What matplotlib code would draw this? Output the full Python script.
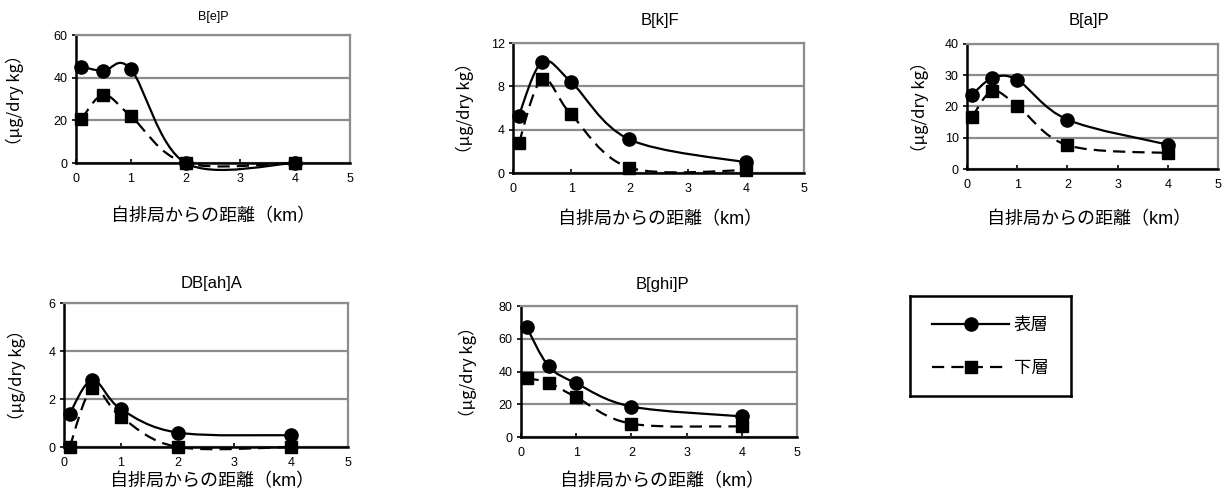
import numpy as np
import matplotlib

matplotlib.use("Agg")
import matplotlib.pyplot as plt
from matplotlib.lines import Line2D
from matplotlib.patches import PathPatch
from matplotlib.path import Path

plt.rcParams["font.family"] = ["Liberation Sans", "Noto Sans CJK JP", "DejaVu Sans"]

# distance from the roadside monitoring station (km)
distance = [0.1, 0.5, 1, 2, 4]

# concentrations, surface layer (表層) and lower layer (下層)
bep_surface = [45.2, 43.1, 44.0, 0.0, 0.0]
bep_lower = [20.6, 31.9, 22.0, 0.0, 0.0]

bkf_surface = [5.3, 10.25, 8.4, 3.1, 0.98]
bkf_lower = [2.75, 8.66, 5.4, 0.5, 0.25]

bap_surface = [23.8, 29.0, 28.5, 15.8, 7.8]
bap_lower = [16.6, 24.9, 20.3, 7.6, 5.1]

dbaha_surface = [1.39, 2.79, 1.58, 0.6, 0.49]
dbaha_lower = [0.0, 2.44, 1.26, 0.0, 0.0]

bghip_surface = [67.2, 43.3, 32.8, 18.6, 12.6]
bghip_lower = [35.8, 33.2, 24.3, 8.1, 6.5]

compounds = ["B[e]P", "B[k]F", "B[a]P", "DB[ah]A", "B[ghi]P"]
surface = [bep_surface, bkf_surface, bap_surface, dbaha_surface, bghip_surface]
lower = [bep_lower, bkf_lower, bap_lower, dbaha_lower, bghip_lower]
y_ticks = [
    [0, 20, 40, 60],
    [0, 4, 8, 12],
    [0, 10, 20, 30, 40],
    [0, 2, 4, 6],
    [0, 20, 40, 60, 80],
]
x_ticks = [0, 1, 2, 3, 4, 5]

W, H = 1226, 490
# plot-area boxes in pixels: left, top, right, bottom
boxes = [
    (76, 35, 350, 163),
    (513, 43, 804, 173),
    (967, 44, 1218, 169),
    (64, 303, 348, 447),
    (521, 306, 797, 437),
]
title_pos = [(213, 17, 9), (660, 21, 12), (1089, 21, 12), (212, 283, 12), (662, 285, 12)]
ylabel_pos = [(15, 100), (465, 108), (920, 107), (17, 375), (468, 372)]
xlabel_pos = [(213, 217), (660, 220), (1089, 220), (212, 482), (662, 482)]

XLABEL = "自排局からの距離（km）"
YLABEL = "（μg/dry kg）"
DASHES = (0, (5.5, 3.2))
LW = 1.6
GRID = "#8c8c8c"


def smooth_path(x, y):
    # cubic Bezier through the points, Catmull-Rom style control points
    pts = np.column_stack([x, y]).astype(float)
    ext = np.vstack([pts[0], pts, pts[-1]])
    verts = [pts[0]]
    codes = [Path.MOVETO]
    for i in range(len(pts) - 1):
        p0, p1, p2, p3 = ext[i], ext[i + 1], ext[i + 2], ext[i + 3]
        verts += [p1 + (p2 - p0) / 6, p2 - (p3 - p1) / 6, p2]
        codes += [Path.CURVE4] * 3
    return Path(verts, codes)


def fx(px):
    return px / W


def fy(py):
    return 1 - py / H


fig = plt.figure(figsize=(W / 100, H / 100), dpi=100)

for k, name in enumerate(compounds):
    l, t, r, b = boxes[k]
    ax = fig.add_axes([fx(l), fy(b), fx(r) - fx(l), fy(t) - fy(b)])
    ax.set_xlim(0, 5)
    ax.set_ylim(0, y_ticks[k][-1])
    ax.set_xticks(x_ticks)
    ax.set_yticks(y_ticks[k])
    ax.yaxis.grid(True, color=GRID, linewidth=1.6)
    ax.set_axisbelow(True)
    for side in ("top", "right"):
        ax.spines[side].set_color(GRID)
        ax.spines[side].set_linewidth(1.6)
    for side in ("left", "bottom"):
        ax.spines[side].set_color("black")
        ax.spines[side].set_linewidth(1.8)
        ax.spines[side].set_zorder(2.5)
    ax.tick_params(axis="x", direction="in", length=3, width=1.2, labelsize=9, pad=7)
    ax.tick_params(axis="y", direction="out", length=3, width=1.2, labelsize=9, pad=3)

    ax.add_patch(PathPatch(smooth_path(distance, surface[k]), facecolor="none",
                           edgecolor="black", linewidth=LW, clip_on=False, zorder=3))
    ax.add_patch(PathPatch(smooth_path(distance, lower[k]), facecolor="none",
                           edgecolor="black", linewidth=LW, linestyle=DASHES,
                           clip_on=False, zorder=3))
    ax.plot(distance, surface[k], linestyle="none", marker="o", markersize=9.5,
            color="black", clip_on=False, zorder=4)
    ax.plot(distance, lower[k], linestyle="none", marker="s", markersize=9,
            color="black", clip_on=False, zorder=5)

    tx, ty, ts = title_pos[k]
    fig.text(fx(tx), fy(ty), name, ha="center", va="center", fontsize=ts)
    yx, yy = ylabel_pos[k]
    fig.text(fx(yx), fy(yy), YLABEL, ha="center", va="center", rotation=90,
             fontsize=12, family=["Noto Sans CJK JP", "DejaVu Sans"])
    xx, xy = xlabel_pos[k]
    fig.text(fx(xx), fy(xy), XLABEL, ha="center", va="center", fontsize=13)

# legend in its own framed box
leg_ax = fig.add_axes([fx(910), fy(396), fx(1071) - fx(910), fy(296) - fy(396)])
leg_ax.set_xticks([])
leg_ax.set_yticks([])
for sp in leg_ax.spines.values():
    sp.set_linewidth(1.8)
    sp.set_color("black")
handles = [
    Line2D([], [], color="black", linewidth=LW, marker="o", markersize=9.5),
    Line2D([], [], color="black", linewidth=LW, linestyle=DASHES, marker="s", markersize=9),
]
leg_ax.legend(handles, ["表層", "下層"], loc="center", frameon=False, fontsize=12.5,
              handlelength=4.4, handletextpad=0.3, labelspacing=1.6)

fig.savefig("out.png", dpi=100)
